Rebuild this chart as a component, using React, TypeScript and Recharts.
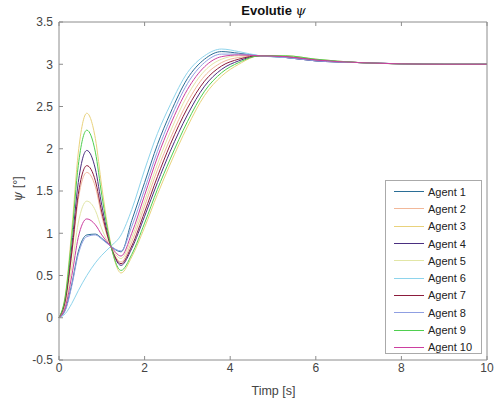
import React from 'react';
import { LineChart, Line, XAxis, YAxis } from 'recharts';

const time = [0, 0.15, 0.3, 0.45, 0.65, 0.85, 1.0, 1.2, 1.45, 1.7, 2.0, 2.3, 2.6, 3.0, 3.4, 3.8, 4.2, 4.7, 5.3, 6.0, 7.0, 8.0, 9.0, 10.0];

const agent1 = [0, 0.1, 0.4, 0.78, 0.98, 0.99, 0.94, 0.85, 0.78, 1.15, 1.6, 2.05, 2.42, 2.83, 3.06, 3.15, 3.13, 3.1, 3.08, 3.04, 3.02, 3.005, 3.0, 3.0];
const agent2 = [0, 0.2, 0.75, 1.4, 1.72, 1.55, 1.2, 0.86, 0.66, 0.9, 1.32, 1.75, 2.12, 2.55, 2.86, 3.02, 3.08, 3.1, 3.09, 3.05, 3.02, 3.005, 3.0, 3.0];
const agent3 = [0, 0.28, 1.05, 1.95, 2.42, 2.12, 1.55, 0.9, 0.53, 0.72, 1.07, 1.46, 1.82, 2.26, 2.63, 2.86, 3.0, 3.1, 3.1, 3.06, 3.02, 3.005, 3.0, 3.0];
const agent4 = [0, 0.23, 0.86, 1.6, 1.98, 1.76, 1.33, 0.87, 0.62, 0.82, 1.2, 1.6, 1.97, 2.4, 2.74, 2.94, 3.04, 3.1, 3.08, 3.04, 3.02, 3.005, 3.0, 3.0];
const agent5 = [0, 0.16, 0.6, 1.12, 1.38, 1.27, 1.05, 0.85, 0.7, 0.95, 1.38, 1.82, 2.2, 2.63, 2.92, 3.06, 3.1, 3.1, 3.09, 3.05, 3.02, 3.005, 3.0, 3.0];
const agent6 = [0, 0.05, 0.17, 0.32, 0.5, 0.65, 0.74, 0.84, 0.98, 1.28, 1.75, 2.18, 2.52, 2.9, 3.1, 3.18, 3.15, 3.1, 3.08, 3.05, 3.02, 3.005, 3.0, 3.0];
const agent7 = [0, 0.21, 0.78, 1.46, 1.8, 1.62, 1.25, 0.86, 0.64, 0.85, 1.25, 1.67, 2.05, 2.48, 2.8, 2.98, 3.06, 3.1, 3.09, 3.05, 3.02, 3.005, 3.0, 3.0];
const agent8 = [0, 0.09, 0.38, 0.75, 0.96, 0.98, 0.93, 0.85, 0.79, 1.08, 1.52, 1.97, 2.35, 2.77, 3.02, 3.12, 3.12, 3.1, 3.08, 3.04, 3.02, 3.005, 3.0, 3.0];
const agent9 = [0, 0.26, 0.97, 1.8, 2.22, 1.96, 1.45, 0.88, 0.56, 0.75, 1.12, 1.52, 1.88, 2.32, 2.68, 2.9, 3.02, 3.1, 3.1, 3.06, 3.02, 3.005, 3.0, 3.0];
const agent10 = [0, 0.13, 0.5, 0.95, 1.17, 1.1, 0.98, 0.85, 0.73, 1.0, 1.45, 1.9, 2.28, 2.7, 2.97, 3.09, 3.11, 3.1, 3.09, 3.05, 3.02, 3.005, 3.0, 3.0];

const agentNames = ['Agent 1', 'Agent 2', 'Agent 3', 'Agent 4', 'Agent 5', 'Agent 6', 'Agent 7', 'Agent 8', 'Agent 9', 'Agent 10'];
const agentValues = [agent1, agent2, agent3, agent4, agent5, agent6, agent7, agent8, agent9, agent10];
const agentColors = ['#2b6e96', '#f2b899', '#e9d27c', '#4a2f80', '#e2e6a6', '#8ed4ec', '#8c1c3c', '#8f9fe2', '#4fcf4f', '#cc3fa0'];

const xTicks = [0, 2, 4, 6, 8, 10];
const yTicks = [-0.5, 0, 0.5, 1, 1.5, 2, 2.5, 3, 3.5];

const chartData = time.map((t, i) => {
  const row: any = { t };
  agentValues.forEach((vals, k) => {
    row['a' + k] = vals[i];
  });
  return row;
});

const axisColor = '#8c8c8c';
const textColor = '#444';

// legend drawn as a plain box over the plot (MATLAB style, NE-ish corner)
const LegendBox = () => (
  <div
    style={{
      position: 'absolute',
      left: 385,
      top: 180,
      border: '1px solid #aaa',
      background: '#fff',
      width: 97,
      height: 174,
      boxSizing: 'border-box',
      paddingTop: 2,
      fontSize: 11,
      color: '#222',
    }}
  >
    {agentNames.map((name, k) => (
      <div key={name} style={{ display: 'flex', alignItems: 'center', height: 17.3 }}>
        <div style={{ width: 30, height: 1, background: agentColors[k], marginLeft: 8, marginRight: 4 }} />
        <span>{name}</span>
      </div>
    ))}
  </div>
);

export default function App() {
  return (
    <div
      style={{
        position: 'absolute',
        left: 0,
        top: 0,
        width: 494,
        height: 404,
        background: '#fff',
        fontFamily: 'Liberation Sans, Arial, sans-serif',
      }}
    >
      <LineChart
        width={494}
        height={404}
        data={chartData}
        margin={{ top: 21, right: 6, left: 0, bottom: 0 }}
      >
        <XAxis
          xAxisId="bottom"
          dataKey="t"
          type="number"
          domain={[0, 10]}
          ticks={xTicks}
          height={44}
          stroke={axisColor}
          tickSize={-4}
          tickMargin={7}
          tick={{ fontSize: 12, fill: textColor }}
        />
        <XAxis
          xAxisId="top"
          dataKey="t"
          type="number"
          orientation="top"
          domain={[0, 10]}
          ticks={xTicks}
          height={1}
          stroke={axisColor}
          tickSize={-4}
          tickFormatter={() => ''}
        />
        <YAxis
          yAxisId="left"
          type="number"
          domain={[-0.5, 3.5]}
          ticks={yTicks}
          width={59}
          stroke={axisColor}
          tickSize={-4}
          tickMargin={10}
          tick={{ fontSize: 12, fill: textColor }}
        />
        <YAxis
          yAxisId="right"
          type="number"
          orientation="right"
          domain={[-0.5, 3.5]}
          ticks={yTicks}
          width={1}
          stroke={axisColor}
          tickSize={-4}
          tickFormatter={() => ''}
        />
        {agentNames.map((name, k) => (
          <Line
            key={name}
            xAxisId="bottom"
            yAxisId="left"
            type="monotone"
            dataKey={'a' + k}
            name={name}
            stroke={agentColors[k]}
            strokeWidth={1}
            dot={false}
            isAnimationActive={false}
          />
        ))}
      </LineChart>
      <div
        style={{
          position: 'absolute',
          left: 59,
          width: 429,
          top: 3,
          textAlign: 'center',
          fontSize: 13,
          fontWeight: 'bold',
          color: '#111',
        }}
      >
        Evolutie <span style={{ fontStyle: 'italic', fontWeight: 'normal', fontFamily: 'DejaVu Serif, serif' }}>ψ</span>
      </div>
      <div
        style={{
          position: 'absolute',
          left: 59,
          width: 429,
          top: 384,
          textAlign: 'center',
          fontSize: 12.5,
          color: textColor,
        }}
      >
        Timp [s]
      </div>
      <div
        style={{
          position: 'absolute',
          left: 17,
          top: 189,
          transform: 'translate(-50%, -50%) rotate(-90deg)',
          fontSize: 12.5,
          color: textColor,
          whiteSpace: 'nowrap',
        }}
      >
        <span style={{ fontStyle: 'italic', fontFamily: 'DejaVu Serif, serif' }}>ψ</span> [°]
      </div>
      <LegendBox />
    </div>
  );
}
